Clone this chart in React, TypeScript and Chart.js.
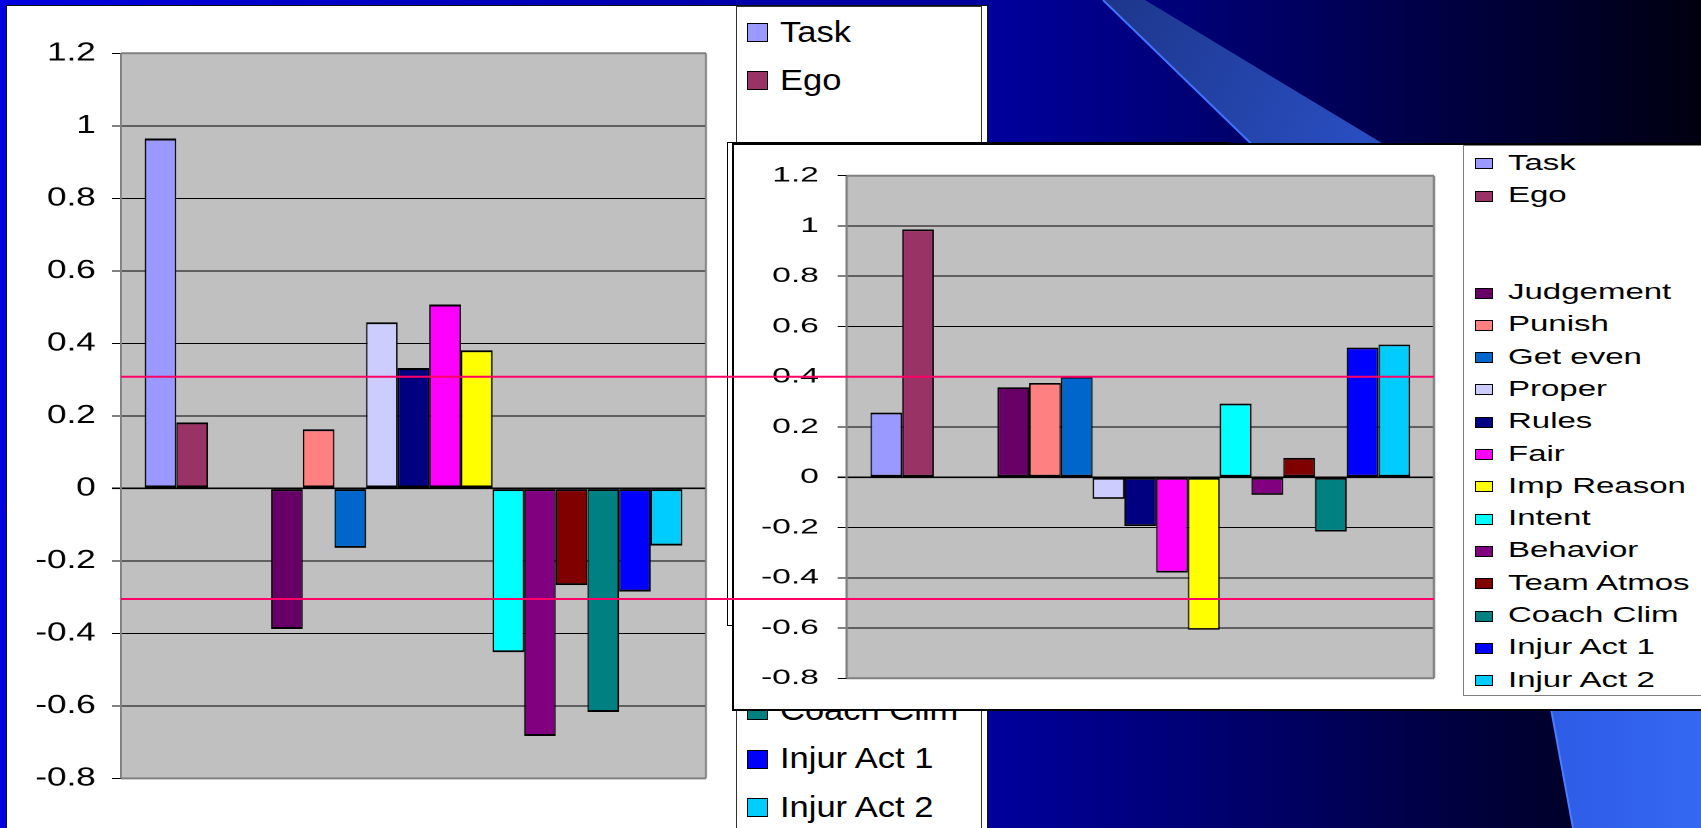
import React, { useEffect, useRef } from "react";
import { Chart, registerables } from "chart.js";

Chart.register(...registerables);

// ---------- data ----------
const SERIES = [
  "Task", "Ego", "", "", "Judgement", "Punish", "Get even", "Proper", "Rules",
  "Fair", "Imp Reason", "Intent", "Behavior", "Team Atmos", "Coach Clim",
  "Injur Act 1", "Injur Act 2",
];
const COLORS = [
  "#9999FF", "#993366", "#FFFFFF", "#FFFFFF", "#660066", "#FF8080", "#0066CC",
  "#CCCCFF", "#000080", "#FF00FF", "#FFFF00", "#00FFFF", "#800080", "#800000",
  "#008080", "#0000FF", "#00CCFF",
];
const LEFT_VALUES = [
  0.965, 0.182, null, null, -0.388, 0.163, -0.164, 0.458, 0.332, 0.507, 0.381,
  -0.452, -0.683, -0.267, -0.617, -0.285, -0.158,
];
const RIGHT_VALUES = [
  0.257, 0.986, null, null, 0.358, 0.375, 0.4, -0.086, -0.194, -0.379, -0.607,
  0.293, -0.07, 0.077, -0.216, 0.516, 0.528,
];
const CATEGORIES = [""];
const Y_MIN = -0.8;
const Y_MAX = 1.2;
const Y_STEP = 0.2;
const REF_LINES = [0.308, -0.305];

// ---------- layout ----------
const FONT = "'Liberation Sans', Arial, Helvetica, sans-serif";

const LEFT_CFG = {
  box: { x: 8, y: 6, w: 530, h: 800 },
  stretch: 1.35,
  axisW: 83.7,
  padTop: 47.3,
  padBottom: 22.7,
  padRight: 13,
  tickLen: 6.7,
  tickPad: 12,
  fontSize: 26,
  border: { top: 2, bottom: 2, left: 1.1, right: 1.1 },
};
const RIGHT_CFG = {
  box: { x: 734, y: 145, w: 450, h: 560 },
  stretch: 1.6,
  axisW: 70.4,
  padTop: 30.7,
  padBottom: 26.7,
  padRight: 12.5,
  tickLen: 5.6,
  tickPad: 11.7,
  fontSize: 21,
  border: { top: 1.7, bottom: 1.7, left: 0.95, right: 0.95 },
};

const plotAreaPlugin = {
  id: "plotAreaExcel",
  beforeDraw(chart: any) {
    const { ctx, chartArea } = chart;
    ctx.save();
    ctx.fillStyle = "#C0C0C0";
    ctx.fillRect(chartArea.left, chartArea.top, chartArea.width, chartArea.height);
    ctx.restore();
  },
  beforeDatasetsDraw(chart: any) {
    const { ctx, chartArea } = chart;
    const { left, right, top, bottom } = chartArea;
    ctx.save();
    ctx.strokeStyle = "#808080";
    ctx.lineWidth = 2;
    ctx.beginPath();
    ctx.moveTo(left, top);
    ctx.lineTo(right, top);
    ctx.moveTo(left, bottom);
    ctx.lineTo(right, bottom);
    ctx.stroke();
    ctx.lineWidth = 1.4;
    ctx.beginPath();
    ctx.moveTo(left, top);
    ctx.lineTo(left, bottom);
    ctx.moveTo(right, top);
    ctx.lineTo(right, bottom);
    ctx.stroke();
    ctx.restore();
  },
};

function makeChart(canvas: HTMLCanvasElement, values: (number | null)[], cfg: any) {
  return new Chart(canvas, {
    type: "bar",
    data: {
      labels: CATEGORIES,
      datasets: SERIES.map((name, i) => ({
        label: name,
        data: [values[i]],
        backgroundColor: COLORS[i],
        borderColor: "#000000",
        borderWidth: cfg.border,
        borderSkipped: false,
        categoryPercentage: 0.919,
        barPercentage: 1,
      })),
    },
    options: {
      animation: false,
      responsive: false,
      devicePixelRatio: 2,
      layout: {
        padding: { left: 0, right: cfg.padRight, top: cfg.padTop, bottom: cfg.padBottom },
      },
      plugins: {
        legend: { display: false },
        tooltip: { enabled: false },
      },
      scales: {
        x: { display: false },
        y: {
          min: Y_MIN,
          max: Y_MAX,
          afterFit: (scale: any) => {
            scale.width = cfg.axisW;
          },
          ticks: {
            stepSize: Y_STEP,
            padding: cfg.tickPad,
            color: "#000000",
            font: { family: FONT, size: cfg.fontSize },
            callback: (v: any) => String(Math.round(Number(v) * 10) / 10),
          },
          grid: {
            color: "#000000",
            lineWidth: (c: any) => (c.tick && c.tick.value === 0 ? 1.6 : 1),
            drawTicks: true,
            tickLength: cfg.tickLen,
          },
          border: { display: false },
        },
      },
    } as any,
    plugins: [plotAreaPlugin],
  });
}

function Legend(props: {
  y0: number;
  step: number;
  markerX: number;
  markerW: number;
  markerH: number;
  markerBorder: number;
  textX: number;
  fontSize: number;
  stretch: number;
}) {
  const { y0, step, markerX, markerW, markerH, markerBorder, textX, fontSize, stretch } = props;
  const lh = Math.round(fontSize * 1.2);
  return (
    <>
      {SERIES.map((name, i) => {
        if (!name) return null;
        const cy = y0 + i * step;
        return (
          <React.Fragment key={i}>
            <div
              style={{
                position: "absolute",
                left: markerX,
                top: cy - markerH / 2,
                width: markerW,
                height: markerH,
                boxSizing: "border-box",
                border: `${markerBorder}px solid #000`,
                background: COLORS[i],
              }}
            />
            <div
              style={{
                position: "absolute",
                left: textX,
                top: cy - lh / 2 - 1,
                height: lh,
                lineHeight: `${lh}px`,
                fontFamily: FONT,
                fontSize,
                color: "#000",
                whiteSpace: "nowrap",
                transform: `scaleX(${stretch})`,
                transformOrigin: "0 50%",
              }}
            >
              {name}
            </div>
          </React.Fragment>
        );
      })}
    </>
  );
}

export default function App() {
  const leftRef = useRef<HTMLCanvasElement>(null);
  const rightRef = useRef<HTMLCanvasElement>(null);
  const overlayRef = useRef<HTMLCanvasElement>(null);

  useEffect(() => {
    const left = makeChart(leftRef.current!, LEFT_VALUES, LEFT_CFG);
    const right = makeChart(rightRef.current!, RIGHT_VALUES, RIGHT_CFG);
    const ov = overlayRef.current!;
    const ctx = ov.getContext("2d")!;
    ctx.clearRect(0, 0, ov.width, ov.height);
    const x1 = LEFT_CFG.box.x + left.chartArea.left * LEFT_CFG.stretch;
    const x2 = RIGHT_CFG.box.x + right.chartArea.right * RIGHT_CFG.stretch;
    ctx.strokeStyle = "#FF0066";
    ctx.lineWidth = 2;
    REF_LINES.forEach((v) => {
      const y = LEFT_CFG.box.y + left.scales.y.getPixelForValue(v);
      ctx.beginPath();
      ctx.moveTo(x1, y);
      ctx.lineTo(x2, y);
      ctx.stroke();
    });
    return () => {
      left.destroy();
      right.destroy();
    };
  }, []);

  const abs = (s: React.CSSProperties): React.CSSProperties => ({ position: "absolute", ...s });

  return (
    <div
      style={{
        position: "fixed",
        left: 0,
        top: 0,
        width: 1701,
        height: 828,
        overflow: "hidden",
        background:
          "linear-gradient(to right, #0000e0 0%, #0000b4 35%, #00009a 59%, #00005a 78%, #000038 88%, #000010 100%)",
      }}
    >
      {/* background swooshes */}
      <svg width={1701} height={828} style={abs({ left: 0, top: 0 })}>
        <defs>
          <linearGradient id="sw1" gradientUnits="userSpaceOnUse" x1={1100} y1={0} x2={1390} y2={150}>
            <stop offset="0" stopColor="#1d368a" />
            <stop offset="1" stopColor="#2a50c6" />
          </linearGradient>
          <linearGradient id="sw2" gradientUnits="userSpaceOnUse" x1={1540} y1={0} x2={1701} y2={0}>
            <stop offset="0" stopColor="#2d5be6" />
            <stop offset="1" stopColor="#3467f2" />
          </linearGradient>
        </defs>
        <polygon points="1103,0 1145,0 1410,160 1268,160" fill="url(#sw1)" />
        <line x1={1103} y1={0} x2={1268} y2={160} stroke="#3f72ff" strokeWidth={2} />
        <polygon points="1531,600 1701,600 1701,828 1573,828 1552,711" fill="url(#sw2)" />
        <line x1={1531} y1={600} x2={1573} y2={828} stroke="#4a7dff" strokeWidth={2} />
      </svg>

      {/* left chart panel */}
      <div
        style={abs({
          left: 6,
          top: 5,
          width: 982,
          height: 840,
          background: "#fff",
          boxSizing: "border-box",
          border: "1.5px solid #111",
        })}
      />
      <div
        style={abs({
          left: 735.5,
          top: 6,
          width: 246,
          height: 840,
          background: "#fff",
          boxSizing: "border-box",
          border: "1px solid #333",
        })}
      />
      <div
        style={abs({
          left: LEFT_CFG.box.x,
          top: LEFT_CFG.box.y,
          width: LEFT_CFG.box.w,
          height: LEFT_CFG.box.h,
          transform: `scaleX(${LEFT_CFG.stretch})`,
          transformOrigin: "0 0",
        })}
      >
        <canvas ref={leftRef} width={LEFT_CFG.box.w} height={LEFT_CFG.box.h} />
      </div>
      <Legend
        y0={32.5}
        step={48.45}
        markerX={747}
        markerW={21}
        markerH={19}
        markerBorder={1.5}
        textX={780}
        fontSize={30}
        stretch={1.15}
      />

      {/* right chart */}
      <div
        style={abs({
          left: 726.5,
          top: 142,
          width: 503,
          height: 483.5,
          background: "#fff",
          boxSizing: "border-box",
          border: "1px solid #000",
        })}
      />
      <div
        style={abs({
          left: 731.5,
          top: 143,
          width: 1000,
          height: 568,
          background: "#fff",
          boxSizing: "border-box",
          border: "2px solid #000",
        })}
      />
      <div
        style={abs({
          left: 1462.5,
          top: 145,
          width: 300,
          height: 551,
          background: "#fff",
          boxSizing: "border-box",
          border: "1px solid #808080",
        })}
      />
      <div
        style={abs({
          left: RIGHT_CFG.box.x,
          top: RIGHT_CFG.box.y,
          width: RIGHT_CFG.box.w,
          height: RIGHT_CFG.box.h,
          transform: `scaleX(${RIGHT_CFG.stretch})`,
          transformOrigin: "0 0",
        })}
      >
        <canvas ref={rightRef} width={RIGHT_CFG.box.w} height={RIGHT_CFG.box.h} />
      </div>
      <Legend
        y0={163.8}
        step={32.3}
        markerX={1474.5}
        markerW={18.5}
        markerH={11}
        markerBorder={1}
        textX={1508}
        fontSize={22}
        stretch={1.5}
      />

      {/* reference lines overlay */}
      <canvas
        ref={overlayRef}
        width={1701}
        height={828}
        style={abs({ left: 0, top: 0, pointerEvents: "none" })}
      />
    </div>
  );
}
